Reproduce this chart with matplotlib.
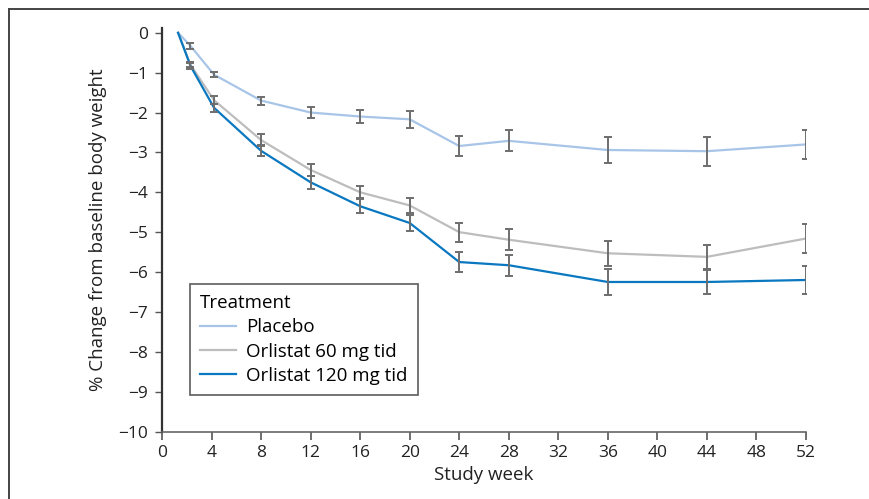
import numpy as np
import matplotlib.pyplot as plt
from matplotlib.lines import Line2D

plt.rcParams['font.family'] = ['Open Sans', 'DejaVu Sans']

weeks = [1.3, 2.3, 4.2, 8, 12, 16, 20, 24, 28, 36, 44, 52]

placebo = [0, -0.33, -1.05, -1.7, -2.0, -2.1, -2.17, -2.84, -2.71, -2.94, -2.97, -2.80]
placebo_err = [0, 0.07, 0.07, 0.1, 0.13, 0.17, 0.21, 0.24, 0.26, 0.32, 0.36, 0.36]

orl60 = [0, -0.80, -1.69, -2.69, -3.44, -4.0, -4.33, -5.0, -5.19, -5.53, -5.62, -5.16]
orl60_err = [0, 0.07, 0.1, 0.14, 0.15, 0.15, 0.19, 0.24, 0.26, 0.31, 0.31, 0.36]

orl120 = [0, -0.83, -1.88, -2.96, -3.75, -4.35, -4.77, -5.75, -5.83, -6.25, -6.25, -6.2]
orl120_err = [0, 0.07, 0.1, 0.14, 0.17, 0.18, 0.2, 0.24, 0.26, 0.32, 0.31, 0.36]

labels = ['Placebo', 'Orlistat 60 mg tid', 'Orlistat 120 mg tid']
colors = ['#a8c5e8', '#bdbdbd', '#0a78c0']

fig = plt.figure(figsize=(8.69, 4.99), dpi=100)
ax = fig.add_axes([162/869, 1 - 431.5/499, (806 - 162)/869, (431.5 - 28)/499])

series = [(placebo, placebo_err), (orl60, orl60_err), (orl120, orl120_err)]
for (vals, errs), lab, col in zip(series, labels, colors):
    ax.plot(weeks, vals, color=col, lw=1.6, label=lab, zorder=2)
for vals, errs in series:
    x = np.array(weeks[1:])
    ax.errorbar(x, vals[1:], yerr=errs[1:], fmt='none', ecolor='#6e6e6e',
                elinewidth=1.4, capsize=2.8, capthick=1.4, zorder=3)

ax.set_xlim(0, 52)
ax.set_ylim(-10, 0.12)
ax.set_xticks(np.arange(0, 53, 4))
ax.set_yticks(np.arange(0, -11, -1))
ax.set_yticklabels([str(v).replace('-', '\u2212') for v in range(0, -11, -1)])

for s in ['top', 'right']:
    ax.spines[s].set_visible(False)
ax.spines['left'].set_color('#333333')
ax.spines['left'].set_linewidth(1.6)
ax.spines['bottom'].set_color('#666666')
ax.spines['bottom'].set_linewidth(1.2)
ax.tick_params(axis='y', length=5, width=1, color='#555555', labelsize=12.5, pad=5, labelcolor='#222222')
ax.tick_params(axis='x', length=6, width=1.2, color='#555555', labelsize=12.5, pad=4, labelcolor='#222222')

ax.set_xlabel('Study week', fontsize=13.5, color='#222222', labelpad=3)
ax.set_ylabel('% Change from baseline body weight', fontsize=13.5, color='#222222', labelpad=8)

leg = ax.legend(title='Treatment', loc='lower left', bbox_to_anchor=(0.043, 0.09),
                borderaxespad=0, fontsize=13.5, title_fontsize=13.5, frameon=True,
                fancybox=False, edgecolor='#333333', handlelength=1.9, handletextpad=0.55,
                borderpad=0.55, labelspacing=0.33, alignment='left')
leg.get_frame().set_linewidth(1.2)

fig.add_artist(Line2D([8.5/869, 8.5/869], [0, 1 - 8.5/499], color='#444444', lw=1.4))
fig.add_artist(Line2D([8.5/869, 1], [1 - 8.5/499, 1 - 8.5/499], color='#444444', lw=1.4))

fig.savefig('out.png', dpi=100)
